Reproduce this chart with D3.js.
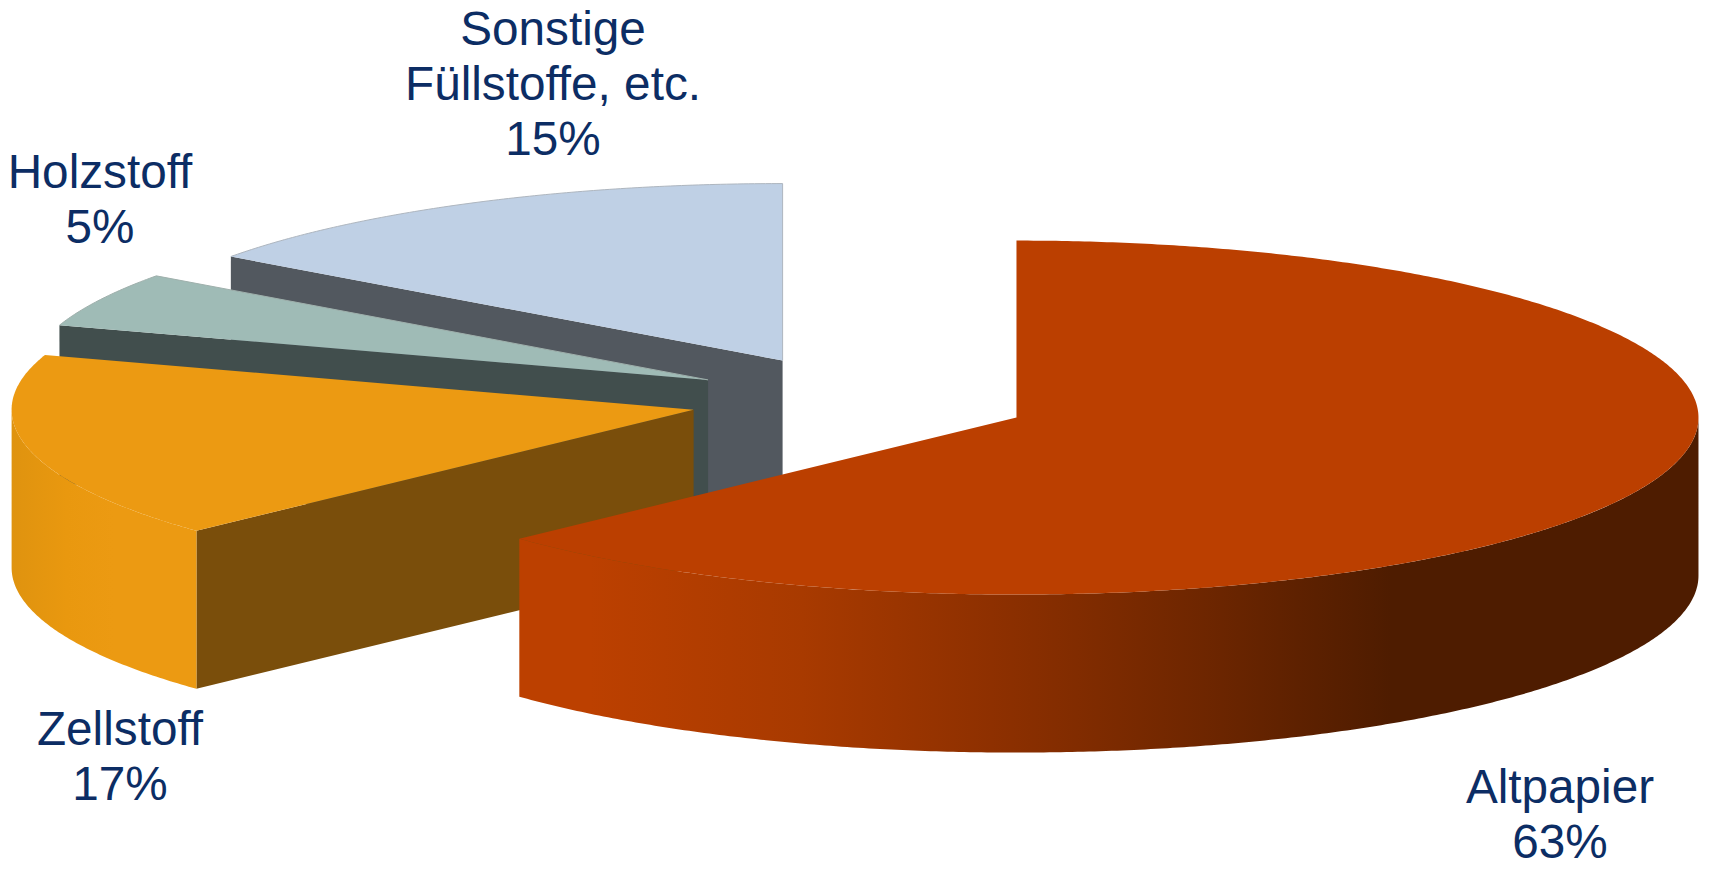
<!DOCTYPE html>
<html lang="de">
<head>
<meta charset="utf-8">
<title>Rohstoffe</title>
<script src="https://cdn.jsdelivr.net/npm/d3@7"></script>
<style>
  html, body { margin: 0; padding: 0; background: #fff; }
  svg { display: block; }
  text { font-family: "Liberation Sans", Arial, sans-serif; font-size: 47.7px; fill: #0c2d64; text-anchor: middle; }
</style>
</head>
<body>
<svg id="chart" width="1710" height="873"></svg>
<script>
// Shares of the raw materials, in percent, clockwise from twelve o'clock
const categories = ["Altpapier", "Zellstoff", "Holzstoff", "Sonstige Füllstoffe, etc."];
const shares = [63, 17, 5, 15];
const topColors = ["#bb3f00", "#ec9a12", "#9fbbb6", "#bfd0e5"];
const cutColors = ["#7a2a00", "#7a4e0b", "#414e4d", "#52585f"];
const rimColors = [null, null, "#9fb0ac", "#aeb6bf"];
const labelLines = [
  ["Altpapier", "63%"],
  ["Zellstoff", "17%"],
  ["Holzstoff", "5%"],
  ["Sonstige", "Füllstoffe, etc.", "15%"]
];

// Shading along the outer wall, as [fraction of the wall's width, colour]
const wallShades = [
  [[0, "#bc4000"], [0.06, "#bc4000"], [0.24, "#a83a00"], [0.4, "#8e3000"], [0.58, "#6e2600"], [0.74, "#4e1c00"], [1, "#4e1c00"]],
  [[0, "#df930f"], [0.3, "#e9980f"], [0.55, "#ec9a12"], [1, "#ec9a12"]],
  [],
  []
];

const svg = d3.select("#chart");
const defs = svg.append("defs");

// Tilted disc: unit coordinates are mapped onto the flattened ellipse
const cx = 860, cy = 400, rx = 682, ry = 177, depth = 158;
const explode = 0.25;
const xScale = d3.scaleLinear().domain([-1, 1]).range([cx - rx, cx + rx]);
const yScale = d3.scaleLinear().domain([-1, 1]).range([cy - ry, cy + ry]);

const TAU = 2 * Math.PI;
const pie = d3.pie().sort(null).startAngle(0).endAngle(TAU);
const arcs = pie(shares);

const line = d3.line();
const unit = (a, r = 1) => [r * Math.sin(a), -r * Math.cos(a)];

function project(slice, a, r, drop = 0) {
  const mid = (slice.startAngle + slice.endAngle) / 2;
  const [ox, oy] = unit(mid, explode);
  const [ux, uy] = unit(a, r);
  return [xScale(ox + ux), yScale(oy + uy) + drop];
}

const anglesBetween = (a0, a1) => {
  const n = Math.max(2, Math.ceil((a1 - a0) * 120));
  return d3.range(n + 1).map(i => a0 + (a1 - a0) * i / n);
};

const rimPoints = slice => anglesBetween(slice.startAngle, slice.endAngle).map(a => project(slice, a, 1));

function topPath(slice) {
  return line([project(slice, 0, 0), ...rimPoints(slice)]) + "Z";
}

function cutPath(slice, a) {
  const inner = project(slice, a, 0), outer = project(slice, a, 1);
  return line([inner, outer, [outer[0], outer[1] + depth], [inner[0], inner[1] + depth]]) + "Z";
}

// The part of the outer wall that faces the viewer
function wallAngles(slice) {
  const a0 = Math.max(slice.startAngle, Math.PI / 2);
  const a1 = Math.min(slice.endAngle, 3 * Math.PI / 2);
  return a1 > a0 ? anglesBetween(a0, a1) : null;
}

// Back slices first, so the nearer ones paint over them
const order = d3.range(arcs.length).reverse();
order.forEach(i => {
  const slice = arcs[i];
  const g = svg.append("g").attr("class", "slice").attr("data-name", categories[i]);

  if (Math.sin(slice.startAngle) < -1e-6) {
    g.append("path").attr("d", cutPath(slice, slice.startAngle)).attr("fill", cutColors[i]);
  }
  if (Math.sin(slice.endAngle) > 1e-6) {
    g.append("path").attr("d", cutPath(slice, slice.endAngle)).attr("fill", cutColors[i]);
  }

  const angles = wallAngles(slice);
  if (angles) {
    const upper = angles.map(a => project(slice, a, 1));
    const lower = angles.slice().reverse().map(a => project(slice, a, 1, depth));
    const span = d3.extent(upper, p => p[0]);
    const grad = defs.append("linearGradient")
      .attr("id", "wall" + i)
      .attr("gradientUnits", "userSpaceOnUse")
      .attr("x1", span[0]).attr("x2", span[1])
      .attr("y1", 0).attr("y2", 0);
    grad.selectAll("stop").data(wallShades[i]).join("stop")
      .attr("offset", d => d[0])
      .attr("stop-color", d => d[1]);
    g.append("path").attr("d", line([...upper, ...lower]) + "Z").attr("fill", `url(#wall${i})`);
  }

  g.append("path").attr("d", topPath(slice)).attr("fill", topColors[i]);

  // Hairline along the back rim of the pale slices
  if (rimColors[i]) {
    g.append("path")
      .attr("d", line([...rimPoints(slice), project(slice, 0, 0)]))
      .attr("fill", "none")
      .attr("stroke", rimColors[i])
      .attr("stroke-width", 1);
  }
});

// Labels sit beside their slices; lines are centred on a common x
const labelAnchors = [
  { x: 1560, y: 802.7 },
  { x: 120, y: 745 },
  { x: 100, y: 188 },
  { x: 553, y: 45 }
];
const lineStep = 55;
svg.append("g").attr("class", "labels")
  .selectAll("text").data(labelLines).join("text")
  .attr("x", (d, i) => labelAnchors[i].x)
  .attr("y", (d, i) => labelAnchors[i].y)
  .selectAll("tspan").data((d, i) => d.map(t => ({ t, x: labelAnchors[i].x }))).join("tspan")
  .attr("x", d => d.x)
  .attr("dy", (d, k) => k ? lineStep : 0)
  .text(d => d.t);
</script>
</body>
</html>
